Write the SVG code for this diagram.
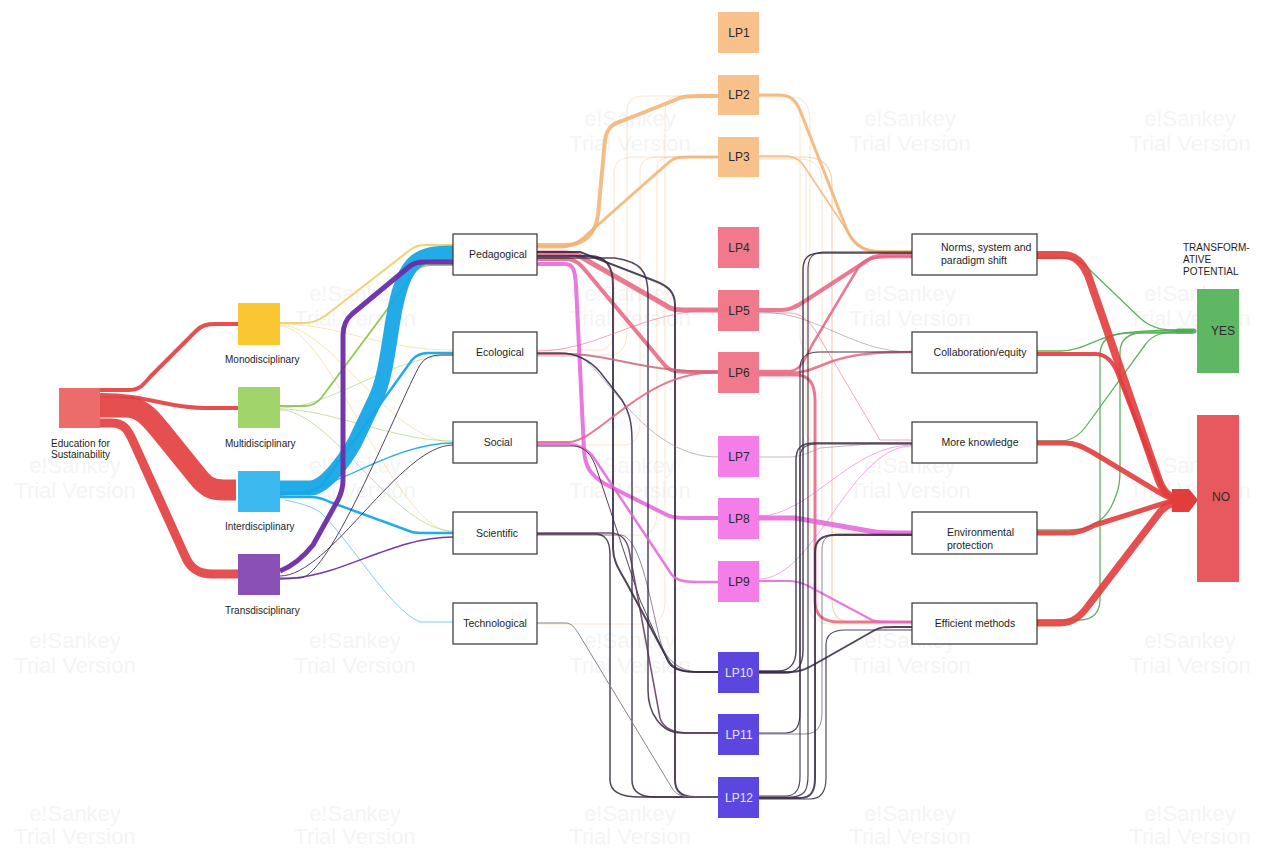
<svg xmlns="http://www.w3.org/2000/svg" width="1265" height="849" viewBox="0 0 1265 849">
<style>
.f{fill:none;stroke-linecap:butt;stroke-linejoin:round}
.red{stroke:#e23c3c;opacity:.9}
.cy{stroke:#17a6e6;opacity:.95}
.pu{stroke:#6a2ca6;opacity:.95}
.ye{stroke:#f2d272}
.gr{stroke:#97c95e}
.or{stroke:#f2b170;opacity:.85}
.pk{stroke:#e6617f;opacity:.85}
.mg{stroke:#e462d8;opacity:.85}
.dk{stroke:#33243f;opacity:.85}
.gy{stroke:#8d7f95}
.gn{stroke:#4dab50;opacity:.9}
.fa{opacity:.35}
.fb{opacity:.55}
.t{font-family:"Liberation Sans",Arial,sans-serif;font-size:10px;fill:#1e1e1e}
.tb{font-family:"Liberation Sans",Arial,sans-serif;font-size:10.5px;fill:#1e1e1e}
.tl{font-family:"Liberation Sans",Arial,sans-serif;font-size:12px;fill:#2a2a2a;text-anchor:middle}
.wm{font-family:"Liberation Sans",Arial,sans-serif;font-size:22px;fill:#000;opacity:.04;text-anchor:middle}
.box{fill:#fff;stroke:#333;stroke-width:1.2}
</style>
<rect width="1265" height="849" fill="#fff"/>
<g id="watermarks">
<text class="wm" x="630" y="126">e!Sankey</text><text class="wm" x="630" y="151">Trial Version</text>
<text class="wm" x="910" y="126">e!Sankey</text><text class="wm" x="910" y="151">Trial Version</text>
<text class="wm" x="1190" y="126">e!Sankey</text><text class="wm" x="1190" y="151">Trial Version</text>
<text class="wm" x="355" y="301">e!Sankey</text><text class="wm" x="355" y="326">Trial Version</text>
<text class="wm" x="630" y="301">e!Sankey</text><text class="wm" x="630" y="326">Trial Version</text>
<text class="wm" x="910" y="301">e!Sankey</text><text class="wm" x="910" y="326">Trial Version</text>
<text class="wm" x="1190" y="301">e!Sankey</text><text class="wm" x="1190" y="326">Trial Version</text>
<text class="wm" x="75" y="473">e!Sankey</text><text class="wm" x="75" y="498">Trial Version</text>
<text class="wm" x="355" y="473">e!Sankey</text><text class="wm" x="355" y="498">Trial Version</text>
<text class="wm" x="630" y="473">e!Sankey</text><text class="wm" x="630" y="498">Trial Version</text>
<text class="wm" x="910" y="473">e!Sankey</text><text class="wm" x="910" y="498">Trial Version</text>
<text class="wm" x="1190" y="473">e!Sankey</text><text class="wm" x="1190" y="498">Trial Version</text>
<text class="wm" x="75" y="648">e!Sankey</text><text class="wm" x="75" y="673">Trial Version</text>
<text class="wm" x="355" y="648">e!Sankey</text><text class="wm" x="355" y="673">Trial Version</text>
<text class="wm" x="630" y="648">e!Sankey</text><text class="wm" x="630" y="673">Trial Version</text>
<text class="wm" x="910" y="648">e!Sankey</text><text class="wm" x="910" y="673">Trial Version</text>
<text class="wm" x="1190" y="648">e!Sankey</text><text class="wm" x="1190" y="673">Trial Version</text>
<text class="wm" x="75" y="821">e!Sankey</text><text class="wm" x="75" y="844">Trial Version</text>
<text class="wm" x="355" y="821">e!Sankey</text><text class="wm" x="355" y="844">Trial Version</text>
<text class="wm" x="630" y="821">e!Sankey</text><text class="wm" x="630" y="844">Trial Version</text>
<text class="wm" x="910" y="821">e!Sankey</text><text class="wm" x="910" y="844">Trial Version</text>
<text class="wm" x="1190" y="821">e!Sankey</text><text class="wm" x="1190" y="844">Trial Version</text>
</g>
<g id="connectors" class="f">
<!-- Education -> disciplinarity -->
<path class="red" stroke-width="4" d="M100 390 H128 C140 390 143 385 150 377 L196 331 C202 325 207 324 216 324 H238"/>
<path class="red" stroke-width="4" d="M100 395 C150 395 165 408 205 408 H238"/>
<path class="red" stroke-width="21" d="M100 407 H125 C142 407 150 418 160 430 L198 477 C206 487 212 490 224 490 H236"/>
<path class="red" stroke-width="9" d="M100 423 H112 C124 423 128 430 133 441 L185 556 C190 568 198 574 212 574 H238"/>
<!-- disciplinarity -> categories -->
<path class="ye fb" stroke-width="1" d="M280 324 C340 324 380 350 453 350"/>
<path class="ye fb" stroke-width="1" d="M280 325 C330 325 390 442 453 442"/>
<path class="ye fb" stroke-width="1" d="M280 326 C330 326 395 532 453 532"/>
<path class="gr fb" stroke-width="1" d="M280 408 C330 408 395 355 453 355"/>
<path class="gr fb" stroke-width="1" d="M280 409 C330 409 395 441 453 441"/>
<path class="gr fb" stroke-width="1" d="M280 410 C330 410 395 531 453 531"/>
<path class="ye" stroke-width="2" d="M280 323 H305 Q315 323 325 316 L410 250 Q416 245 426 245 H453"/>
<path class="gr" stroke-width="2" d="M280 406 H305 Q315 406 322 397 L415 272 Q420 265 430 265 H453"/>
<path class="cy" stroke-width="15" d="M280 488 H310 C325 488 345 460 355 442 L375 400 C385 380 388 350 393 320 C398 290 405 270 415 262 C425 254 435 253 453 253"/>
<path class="cy" stroke-width="2.5" d="M280 493 H300 Q312 493 322 485 L412 360 Q418 353 428 353 H453"/>
<path class="cy" stroke-width="1.3" d="M280 495 C330 495 390 443 453 443"/>
<path class="cy" stroke-width="2.5" d="M280 497 H310 Q320 497 330 502 L412 532 Q416 533 425 533 H453"/>
<path class="cy fb" stroke-width="1" d="M285 500 Q310 505 320 512 C350 540 390 610 420 622 H453"/>
<path class="pu" stroke-width="5" d="M280 571 C295 565 305 555 313 545 L338 500 Q343 490 343 480 V335 Q343 322 352 314 L410 266 Q415 262 425 262 H453"/>
<path class="dk" stroke-width="1" d="M280 578 H300 C330 578 400 400 420 365 Q426 355 440 355 H453"/>
<path class="dk" stroke-width="1" d="M280 576 C330 576 400 445 453 445"/>
<path class="pu" stroke-width="1.5" d="M280 579 C340 579 390 537 453 537"/>
<!-- categories -> LP -->
<path class="or fa" stroke-width="1" d="M537 350 H600 C610 350 614 340 614 325 V175 C614 162 620 157 635 157 H718"/>
<path class="or fa" stroke-width="1" d="M537 355 H610 C622 355 627 345 627 330 V112 C627 100 633 96 645 96 H718"/>
<path class="or fa" stroke-width="1" d="M537 445 H625 C635 445 640 435 640 420 V172 C640 162 645 157 660 157 H718"/>
<path class="or fa" stroke-width="1" d="M537 535 H642 C652 535 657 525 657 510 V170 C657 160 662 157 672 157 H718"/>
<path class="or fa" stroke-width="1" d="M537 624 H650 C660 624 665 614 665 600 V112 C665 100 670 96 682 96 H718"/>
<path class="or" stroke-width="4" d="M537 245 H565 C585 245 595 235 598 215 L605 140 C607 128 612 124 622 121 L680 98 C684 96 690 96 700 96 H718"/>
<path class="or" stroke-width="3" d="M537 247 H560 C570 247 575 244 582 239 L668 163 C673 158 678 157 690 157 H718"/>
<path class="pk" stroke-width="5" d="M537 253 H565 C575 253 580 256 588 261 L665 305 C670 309 675 310 688 310 H718"/>
<path class="pk" stroke-width="4" d="M537 259 H568 C576 260 580 264 585 270 L662 362 C668 370 672 372 688 372 H718"/>
<path class="mg" stroke-width="4" d="M537 264 H565 C573 264 575 270 576 285 L584 450 C585 468 592 476 605 484 L665 514 C670 517 675 518 690 518 H718"/>
<path class="dk" stroke-width="2" d="M537 256 H590 C605 256 613 265 613 285 V548 C613 560 618 568 625 580 L668 660 C672 668 680 672 695 672 H718"/>
<path class="dk" stroke-width="1.5" d="M537 258 H615 C640 262 648 270 648 295 V690 C648 712 660 733 682 733 H718"/>
<path class="dk" stroke-width="2" d="M537 252 H580 L655 281 C668 286 675 292 675 305 V780 C675 792 682 797 695 797 H718"/>
<path class="pk fb" stroke-width="1" d="M537 351 C600 351 640 310 718 310"/>
<path class="pk" stroke-width="2" style="stroke:#c46a7a" d="M537 354 H570 C610 354 640 372 718 372"/>
<path class="gy fb" stroke-width="1" d="M537 356 H575 C600 356 640 457 718 457"/>
<path class="dk" stroke-width="1.5" d="M537 353 H560 C575 353 590 360 600 372 L622 400 C628 410 632 420 632 440 V780 C632 792 640 797 655 797 H718"/>
<path class="pk" stroke-width="2" d="M537 442 H568 C600 442 640 372 718 372"/>
<path class="mg" stroke-width="2.5" d="M537 444 H568 C578 444 585 448 592 455 L672 575 C676 580 682 582 695 582 H718"/>
<path class="dk" stroke-width="1" d="M537 446 H572 C585 446 592 455 597 470 L640 600 L668 662 C672 670 682 672 700 672 H718"/>
<path class="dk" stroke-width="1.5" style="stroke:#5a2f5a" d="M537 533 H610 C622 533 628 540 630 555 L660 718 C663 728 672 733 690 733 H718"/>
<path class="dk" stroke-width="1.5" d="M537 534 H595 C605 534 610 540 610 555 V780 C610 792 620 797 640 797 H718"/>
<path class="dk fb" stroke-width="1" d="M537 535 H620 C640 535 650 600 660 640 C665 660 680 672 700 672 H718"/>
<path class="gy" stroke-width="1" d="M537 623 H565 C572 623 575 628 580 636 L672 788 C676 795 682 797 695 797 H718"/>
<!-- LP -> outcomes -->
<path class="or fa" stroke-width="1" d="M759 96 H785 C797 96 800 105 800 118 V335 C800 348 806 352 820 352 H912"/>
<path class="or fa" stroke-width="1" d="M759 97 H792 C805 97 810 108 810 120 V606 C810 618 818 624 830 624 H912"/>
<path class="or fa" stroke-width="1" d="M759 158 H792 C803 158 806 166 806 178 V430 C806 440 812 443 825 443 H912"/>
<path class="or fa" stroke-width="1" d="M759 159 H800 C815 159 822 168 822 182 V520 C822 530 828 533 840 533 H912"/>
<path class="or fb" stroke-width="1.2" d="M759 157 H805 C825 157 832 168 832 185 V600 C832 615 838 622 850 622 H912"/>
<path class="or" stroke-width="3" d="M759 95 H780 C792 95 798 103 803 118 L845 225 C850 240 860 252 880 252 H912"/>
<path class="or" stroke-width="1.5" d="M759 156 H785 C796 156 802 162 808 172 L852 238 C858 247 866 251 885 251 H912"/>
<path class="pk" stroke-width="4" d="M759 310 H782 C790 310 796 307 805 301 L868 260 C873 256 880 255 892 255 H912"/>
<path class="pk" stroke-width="2.5" d="M759 371 H790 C800 371 805 360 812 345 L858 268 C864 259 872 257 890 257 H912"/>
<path class="pk" stroke-width="2.5" d="M759 373 H790 C805 373 815 368 830 362 C850 355 870 352 912 352"/>
<path class="pk" stroke-width="3" d="M759 375 H796 C810 375 815 385 815 400 V600 C815 615 822 622 840 622 H912"/>
<path class="gy fb" stroke-width="1" d="M759 312 C820 312 850 352 912 352"/>
<path class="pk fb" stroke-width="1" d="M759 313 H790 C800 313 808 320 815 330 L880 440 H912"/>
<path class="gy fb" stroke-width="1" d="M759 457 H790 C800 457 810 452 820 448 L870 444 H912"/>
<path class="mg" stroke-width="5" d="M759 518 H795 L875 532 C880 533 890 533 912 533"/>
<path class="mg fb" stroke-width="1" d="M759 516 C810 516 850 445 912 445"/>
<path class="mg" stroke-width="2" d="M759 581 H790 C798 581 805 584 812 588 L872 620 C876 622 882 622 895 622 H912"/>
<path class="mg fb" stroke-width="1" d="M759 579 C815 579 850 446 912 446"/>
<path class="dk" stroke-width="2" d="M759 672 H790 C800 672 806 669 815 664 L875 630 C880 627 885 627 895 627 H912"/>
<path class="dk" stroke-width="1.5" d="M759 673 H785 C798 673 803 665 803 650 V270 C803 258 808 253 822 253 H912"/>
<path class="dk" stroke-width="1.5" d="M759 671 H778 C790 671 796 663 796 650 V460 C796 448 801 443 815 443 H912"/>
<path class="dk" stroke-width="1.2" d="M759 733 H785 C797 733 800 725 800 712 V368 C800 357 806 352 820 352 H912"/>
<path class="dk fb" stroke-width="1" d="M759 734 H805 C818 734 822 725 822 712 V550 C822 538 828 534 840 534 H912"/>
<path class="dk" stroke-width="1.2" d="M759 797 H790 C805 797 808 790 808 775 V268 C808 258 812 252 825 252 H912"/>
<path class="dk" stroke-width="2" d="M759 798 H800 C812 798 815 790 815 778 V552 C815 540 822 535 835 535 H912"/>
<path class="dk" stroke-width="1.2" d="M759 796 H785 C797 796 800 788 800 776 V458 C800 448 805 444 818 444 H912"/>
<path class="dk" stroke-width="1.2" d="M759 799 H810 C822 799 826 790 826 778 V645 C826 635 832 630 845 630 H912"/>
<!-- outcomes -> YES / NO -->
<path class="gn" stroke-width="1.3" d="M1037 258 H1065 C1078 258 1085 265 1092 272 L1140 318 C1150 327 1160 330 1175 330 H1193"/>
<path class="gn" stroke-width="1.3" d="M1037 351 H1060 C1080 351 1095 340 1110 336 C1130 331 1150 330 1193 330"/>
<path class="gn" stroke-width="1.3" d="M1037 441 H1060 C1072 441 1080 435 1087 425 L1145 345 C1152 335 1160 331 1193 331"/>
<path class="gn" stroke-width="1.3" d="M1037 530 H1070 C1090 530 1105 520 1112 505 C1118 492 1120 485 1120 470 V352 C1120 340 1128 333 1145 332 H1193"/>
<path class="gn" stroke-width="1.3" d="M1037 620 H1080 C1093 620 1100 612 1100 600 V355 C1100 342 1108 334 1125 333 H1193"/>
<path class="gn" stroke-width="5" stroke-linecap="round" d="M1178 331 H1194"/>
<path class="red" stroke-width="8" d="M1037 255 H1062 C1075 255 1082 262 1088 275 L1158 478 C1162 490 1168 498 1180 500 H1190"/>
<path class="red" stroke-width="4" d="M1037 354 H1095 C1105 354 1112 360 1117 372 L1160 482 C1163 492 1170 498 1182 500 H1190"/>
<path class="red" stroke-width="5" d="M1037 443 H1065 C1075 443 1082 446 1092 452 L1160 493 C1166 497 1172 500 1190 500"/>
<path class="red" stroke-width="5" d="M1037 533 H1068 C1078 533 1085 530 1095 525 L1165 503 C1170 501 1180 500 1190 500"/>
<path class="red" stroke-width="7" d="M1037 623 H1060 C1072 623 1080 617 1088 606 L1160 512 C1166 505 1172 502 1190 502"/>
<polygon fill="#e23c3c" points="1172,489 1189,489 1198,500 1189,512 1172,512"/>
</g>
<g id="n-edu"><rect x="59" y="388" width="41" height="40" fill="#ec6b6b"/><text class="t" x="51" y="447">Education for</text><text class="t" x="51" y="458">Sustainability</text></g>
<g id="n-mono"><rect x="238" y="303" width="42" height="42" fill="#f8c731"/><text class="t" x="225" y="363">Monodisciplinary</text></g>
<g id="n-multi"><rect x="238" y="387" width="42" height="41" fill="#a2d46c"/><text class="t" x="225" y="447">Multidisciplinary</text></g>
<g id="n-inter"><rect x="238" y="471" width="42" height="41" fill="#3cbaf0"/><text class="t" x="225" y="530">Interdisciplinary</text></g>
<g id="n-trans"><rect x="238" y="554" width="42" height="41" fill="#8b50b5"/><text class="t" x="225" y="614">Transdisciplinary</text></g>
<g id="n-ped"><rect class="box" x="453" y="234" width="84" height="41"/><text class="tb" x="498" y="258" text-anchor="middle">Pedagogical</text></g>
<g id="n-eco"><rect class="box" x="453" y="332" width="84" height="41"/><text class="tb" x="500" y="356" text-anchor="middle">Ecological</text></g>
<g id="n-soc"><rect class="box" x="453" y="422" width="84" height="41"/><text class="tb" x="498" y="446" text-anchor="middle">Social</text></g>
<g id="n-sci"><rect class="box" x="453" y="512" width="84" height="42"/><text class="tb" x="497" y="537" text-anchor="middle">Scientific</text></g>
<g id="n-tech"><rect class="box" x="453" y="603" width="84" height="41"/><text class="tb" x="495" y="627" text-anchor="middle">Technological</text></g>
<g id="n-lp1"><rect x="718" y="12" width="41" height="41" fill="#f8c08b"/><text class="tl" x="739" y="37">LP1</text></g>
<g id="n-lp2"><rect x="718" y="75" width="41" height="40" fill="#f8c08b"/><text class="tl" x="739" y="99">LP2</text></g>
<g id="n-lp3"><rect x="718" y="137" width="41" height="40" fill="#f8c08b"/><text class="tl" x="739" y="161">LP3</text></g>
<g id="n-lp4"><rect x="718" y="227" width="41" height="41" fill="#f07a8b"/><text class="tl" x="739" y="252">LP4</text></g>
<g id="n-lp5"><rect x="718" y="290" width="41" height="41" fill="#f07a8b"/><text class="tl" x="739" y="315">LP5</text></g>
<g id="n-lp6"><rect x="718" y="352" width="41" height="41" fill="#f07a8b"/><text class="tl" x="739" y="377">LP6</text></g>
<g id="n-lp7"><rect x="718" y="436" width="41" height="41" fill="#f47ee8"/><text class="tl" x="739" y="461">LP7</text></g>
<g id="n-lp8"><rect x="718" y="498" width="41" height="41" fill="#f47ee8"/><text class="tl" x="739" y="523">LP8</text></g>
<g id="n-lp9"><rect x="718" y="561" width="41" height="41" fill="#f47ee8"/><text class="tl" x="739" y="586">LP9</text></g>
<g id="n-lp10"><rect x="718" y="652" width="41" height="41" fill="#5c46e0"/><text class="tl" x="739" y="677" style="fill:#e8e6ff">LP10</text></g>
<g id="n-lp11"><rect x="718" y="714" width="41" height="41" fill="#5c46e0"/><text class="tl" x="739" y="739" style="fill:#e8e6ff">LP11</text></g>
<g id="n-lp12"><rect x="718" y="777" width="41" height="41" fill="#5c46e0"/><text class="tl" x="739" y="802" style="fill:#e8e6ff">LP12</text></g>
<g id="n-norms"><rect class="box" x="912" y="234" width="125" height="41"/><text class="tb" x="941" y="251">Norms, system and</text><text class="tb" x="941" y="264">paradigm shift</text></g>
<g id="n-collab"><rect class="box" x="912" y="332" width="125" height="41"/><text class="tb" x="980" y="356" text-anchor="middle">Collaboration/equity</text></g>
<g id="n-know"><rect class="box" x="912" y="422" width="125" height="41"/><text class="tb" x="980" y="446" text-anchor="middle">More knowledge</text></g>
<g id="n-env"><rect class="box" x="912" y="512" width="125" height="42"/><text class="tb" x="947" y="536">Environmental</text><text class="tb" x="947" y="549">protection</text></g>
<g id="n-eff"><rect class="box" x="912" y="603" width="125" height="41"/><text class="tb" x="975" y="627" text-anchor="middle">Efficient methods</text></g>
<g id="n-title"><text class="t" x="1183" y="251">TRANSFORM-</text><text class="t" x="1183" y="263">ATIVE</text><text class="t" x="1183" y="275">POTENTIAL</text></g>
<g id="n-yes"><rect x="1197" y="289" width="42" height="84" fill="#5fb663"/><text class="tl" x="1223" y="335">YES</text></g>
<g id="n-no"><rect x="1197" y="415" width="42" height="167" fill="#e8595f"/><text class="tl" x="1221" y="501">NO</text></g>
</svg>
